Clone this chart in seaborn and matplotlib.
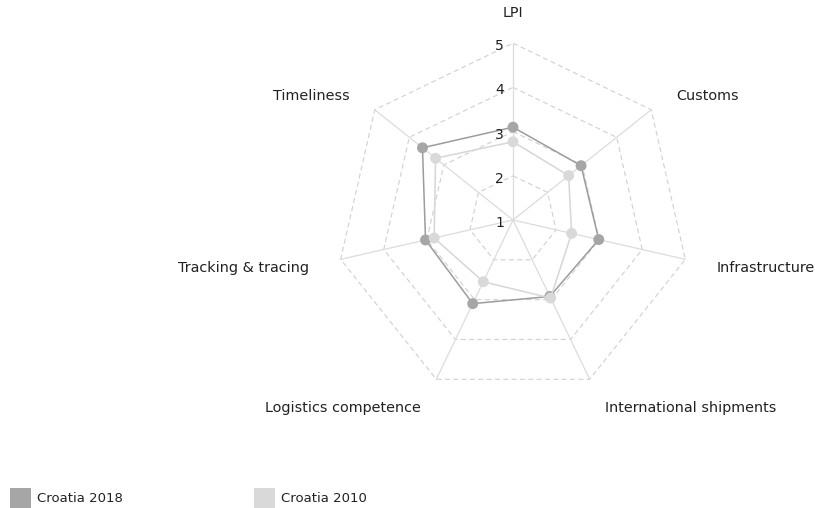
"""
Radar chart: Croatia logistics performance index, 2010 vs 2018.
"""

import numpy as np
import pandas as pd
import matplotlib
matplotlib.use("Agg")
import matplotlib.pyplot as plt
from matplotlib.patches import Patch
import seaborn as sns

# --- data -------------------------------------------------------------
categories = ["LPI", "Customs", "Infrastructure", "International shipments",
              "Logistics competence", "Tracking & tracing", "Timeliness"]
croatia_2018 = [3.10, 2.97, 2.99, 2.92, 3.10, 3.03, 3.62]
croatia_2010 = [2.77, 2.61, 2.36, 2.96, 2.55, 2.83, 3.24]
series_names = ["Croatia 2018", "Croatia 2010"]
tick_values = [1, 2, 3, 4, 5]

# --- style ------------------------------------------------------------
COLORS = {"Croatia 2018": "#a6a6a6", "Croatia 2010": "#d9d9d9"}
LINE_COLORS = {"Croatia 2018": "#9c9c9c", "Croatia 2010": "#d6d6d6"}
GRID_COLOR = "#d0d0d0"
SPOKE_COLOR = "#dcdcdc"
TEXT_COLOR = "#222222"

W, H, DPI = 815, 508, 100
CX, CY = 513, 220          # centre of the radar in pixels
PX_PER_UNIT = 44.2         # pixels per value unit
R_MIN, R_MAX = 1, 5

sns.set_theme(style="white")
plt.rcParams["font.family"] = ["DejaVu Sans"]


def to_xy(values):
    n = len(categories)
    ang = np.pi / 2 - 2 * np.pi * np.arange(n) / n
    r = np.asarray(values, dtype=float) - R_MIN
    return r * np.cos(ang), r * np.sin(ang), ang


def main():
    fig = plt.figure(figsize=(W / DPI, H / DPI), dpi=DPI)
    ax = fig.add_axes([0, 0, 1, 1])
    ax.set_xlim(-CX / PX_PER_UNIT, (W - CX) / PX_PER_UNIT)
    ax.set_ylim(-(H - CY) / PX_PER_UNIT, CY / PX_PER_UNIT)
    ax.axis("off")

    n = len(categories)
    _, _, ang = to_xy([R_MAX] * n)

    # grid polygons (dashed)
    for lvl in tick_values[1:]:
        gx, gy, _ = to_xy([lvl] * n)
        ax.plot(np.append(gx, gx[0]), np.append(gy, gy[0]), color=GRID_COLOR,
                lw=0.8, ls=(0, (4.5, 3)), zorder=1)

    # spokes
    sx, sy, _ = to_xy([R_MAX] * n)
    for x, y in zip(sx, sy):
        ax.plot([0, x], [0, y], color=SPOKE_COLOR, lw=0.9, zorder=1)

    # series
    rows = []
    for name, vals in zip(series_names, [croatia_2018, croatia_2010]):
        x, y, _ = to_xy(vals)
        for i in range(n + 1):
            rows.append({"series": name, "order": i, "x": x[i % n], "y": y[i % n]})
    df = pd.DataFrame(rows)

    for k, name in enumerate(series_names):
        d = df[df["series"] == name]
        sns.lineplot(data=d, x="x", y="y", sort=False, estimator=None,
                     color=LINE_COLORS[name], lw=1.1, ax=ax, zorder=3 + 2 * k)
        sns.scatterplot(data=d[d["order"] < n], x="x", y="y", color=COLORS[name],
                        s=62, edgecolor="none", ax=ax, zorder=4 + 2 * k)

    # tick labels along the top spoke
    for v in tick_values:
        ax.text(-0.2, v - R_MIN - 0.07, str(v), ha="right", va="center",
                fontsize=10, color=TEXT_COLOR)

    # category labels
    r_lab = (R_MAX - R_MIN) + 30 / PX_PER_UNIT
    x_pad = 2 / PX_PER_UNIT
    for cat, a in zip(categories, ang):
        c, s = np.cos(a), np.sin(a)
        if abs(c) < 1e-6:
            ax.text(0, r_lab, cat, ha="center", va="center",
                    fontsize=10.4, color=TEXT_COLOR)
            continue
        ha = "left" if c > 0 else "right"
        y_drop = (2 + 4 * max(s, 0)) / PX_PER_UNIT
        ax.text(r_lab * c + np.sign(c) * x_pad, r_lab * s - y_drop, cat,
                ha=ha, va="center", fontsize=10.4, color=TEXT_COLOR)

    handles = [Patch(facecolor=COLORS[s], edgecolor="none", label=s) for s in series_names]
    fig.legend(handles=handles, loc="lower left", bbox_to_anchor=(10 / W, 0.0),
               ncol=2, frameon=False, fontsize=9.5, handlelength=1.6,
               handleheight=2.0, handletextpad=0.45, columnspacing=9.9,
               borderpad=0, borderaxespad=0, labelcolor=TEXT_COLOR)

    fig.savefig("out.png", dpi=DPI)
    plt.close(fig)


if __name__ == "__main__":
    main()
